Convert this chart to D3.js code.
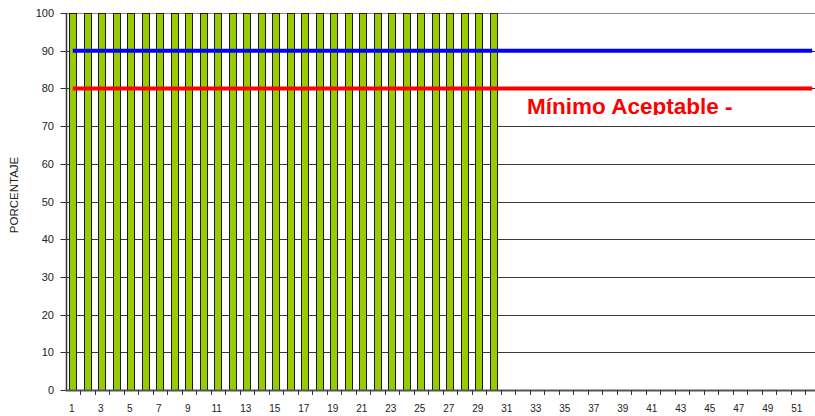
<!DOCTYPE html>
<html>
<head>
<meta charset="utf-8">
<script src="https://cdn.jsdelivr.net/npm/d3@7/dist/d3.min.js"></script>
<style>
  html, body { margin: 0; padding: 0; background: #fff; }
  svg { display: block; font-family: Arial, "Liberation Sans", sans-serif; }
</style>
</head>
<body>
<svg id="chart" width="815" height="416"></svg>
<script>
// Weeks 1..52 on the horizontal axis
const weeks = d3.range(1, 53);
// Percentage achieved per week (weeks 1..30 reported)
const porcentaje = [100,100,100,100,100,100,100,100,100,100,
                    100,100,100,100,100,100,100,100,100,100,
                    100,100,100,100,100,100,100,100,100,100];
const yTicks = [0,10,20,30,40,50,60,70,80,90,100];
const metaValue = 90;      // target line (blue)
const minimoValue = 80;    // minimum acceptable line (red)
const minimoLabel = "Mínimo Aceptable -";
const yTitle = "PORCENTAJE";

const svg = d3.select("#chart");
const plotLeft = 65.5, plotRight = 819.5, plotTop = 13, plotBottom = 390;

const x = d3.scaleBand().domain(weeks).range([plotLeft, plotRight]).padding(0);
const y = d3.scaleLinear().domain([0, 100]).range([plotBottom, plotTop]);
const px = v => Math.round(v) + 0.5;

// horizontal gridlines
svg.append("g").selectAll("line")
  .data(yTicks.filter(d => d > 0))
  .join("line")
  .attr("x1", plotLeft).attr("x2", 815)
  .attr("y1", d => px(y(d))).attr("y2", d => px(y(d)))
  .attr("stroke", d => d === 100 ? "#8a8a8a" : "#3a3a3a")
  .attr("stroke-width", 1);

// bars
const bw = x.bandwidth() * 0.47;
svg.append("g").selectAll("rect")
  .data(porcentaje)
  .join("rect")
  .attr("x", (d, i) => Math.round(x(weeks[i]) + (x.bandwidth() - bw) / 2) + 0.5)
  .attr("y", d => px(y(d)))
  .attr("width", Math.round(bw))
  .attr("height", d => px(y(0)) - px(y(d)))
  .attr("fill", "#99cc00")
  .attr("stroke", "#1a1a1a")
  .attr("stroke-width", 1);

// reference lines
const cx = w => x(w) + x.bandwidth() / 2;
svg.append("line")
  .attr("x1", cx(weeks[0])).attr("x2", cx(weeks[weeks.length - 1]))
  .attr("y1", y(metaValue)).attr("y2", y(metaValue))
  .attr("stroke", "#0000ff").attr("stroke-width", 4);
svg.append("line")
  .attr("x1", cx(weeks[0])).attr("x2", cx(weeks[weeks.length - 1]))
  .attr("y1", y(minimoValue)).attr("y2", y(minimoValue))
  .attr("stroke", "#ff0000").attr("stroke-width", 4);

// label box clips the descenders
svg.append("defs").append("clipPath").attr("id", "lblclip")
  .append("rect").attr("x", 500).attr("y", 92).attr("width", 300).attr("height", 23);
svg.append("text")
  .attr("clip-path", "url(#lblclip)")
  .attr("x", 527).attr("y", 114)
  .attr("fill", "#ff0000")
  .attr("font-size", 22.5)
  .attr("font-weight", "bold")
  .text(minimoLabel);

// y axis
svg.append("line")
  .attr("x1", px(plotLeft)).attr("x2", px(plotLeft)).attr("y1", plotTop).attr("y2", plotBottom + 1)
  .attr("stroke", "#333").attr("stroke-width", 1.5);
const yg = svg.append("g");
yg.selectAll("line").data(yTicks).join("line")
  .attr("x1", px(plotLeft) - 6).attr("x2", px(plotLeft))
  .attr("y1", d => px(y(d))).attr("y2", d => px(y(d)))
  .attr("stroke", "#333");
yg.selectAll("text").data(yTicks).join("text")
  .attr("x", 54).attr("y", d => y(d) + 4)
  .attr("text-anchor", "end")
  .attr("font-size", 11).attr("fill", "#222")
  .text(d => d);

// x axis
svg.append("line")
  .attr("x1", plotLeft).attr("x2", 815).attr("y1", plotBottom + 0.5).attr("y2", plotBottom + 0.5)
  .attr("stroke", "#555").attr("stroke-width", 2);
const xg = svg.append("g");
xg.selectAll("line").data(weeks.slice(1)).join("line")
  .attr("x1", d => px(x(d))).attr("x2", d => px(x(d)))
  .attr("y1", plotBottom).attr("y2", plotBottom + 5)
  .attr("stroke", "#333");
xg.selectAll("text").data(weeks.filter(d => d % 2 === 1)).join("text")
  .attr("x", d => cx(d) - 1).attr("y", 412)
  .attr("text-anchor", "middle")
  .attr("font-size", 10).attr("fill", "#222")
  .text(d => d);

// y-axis title
svg.append("text")
  .attr("transform", "translate(17.5,195) rotate(-90)")
  .attr("text-anchor", "middle")
  .attr("font-size", 11.5).attr("fill", "#222")
  .text(yTitle);
</script>
</body>
</html>
